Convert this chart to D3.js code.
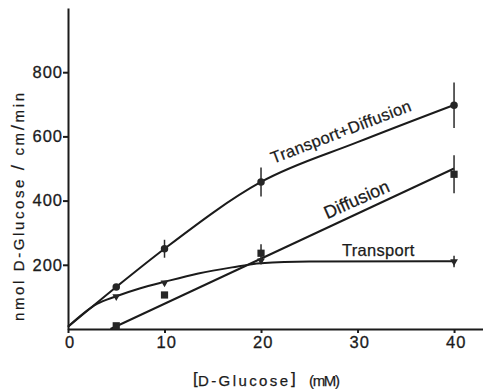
<!DOCTYPE html>
<html>
<head>
<meta charset="utf-8">
<script src="https://cdn.jsdelivr.net/npm/d3@7"></script>
<style>
  body { margin: 0; background: #fff; }
  svg { display: block; font-family: "Liberation Sans", Arial, sans-serif; }
  .axis path, .axis line { stroke: #1b1b1b; stroke-width: 2; }
  .axis text { font-size: 16.5px; fill: #1b1b1b; letter-spacing: 1px; stroke: #1b1b1b; stroke-width: 0.3px; }
  .lbl { fill: #1b1b1b; stroke: #1b1b1b; stroke-width: 0.25px; }
</style>
</head>
<body>
<div id="chart"></div>
<script>
// measured points (mM -> nmol/cm/min)
var conc = [5, 10, 20, 40];
var transDiff = [131, 250, 458, 697];
var transDiffErr = [0, 28, 45, 71];
var diffusion = [10, 106, 236, 482];
var diffusionErr = [0, 0, 28, 59];
var transport = [101, 144, 213, 210];
var transportErr = [0, 0, 0, 18];

// drawn curves
var fitTransDiffX = [0, 5, 10, 20, 30, 40];
var fitTransDiffY = [7, 131, 250, 458, 582, 698];
var fitDiffusionX = [4.4, 40];
var fitDiffusionY = [0, 500];
var fitTransportX = [0, 3, 5, 7.5, 10, 13.5, 17, 20, 25, 40];
var fitTransportY = [7, 78, 102, 127, 147, 173, 192, 205, 210, 211];

var xTicks = [0, 10, 20, 30, 40];
var yTicks = [200, 400, 600, 800];

var width = 483, height = 389;
var svg = d3.select("#chart").append("svg")
    .attr("width", width)
    .attr("height", height);

var x = d3.scaleLinear().domain([0, 43]).range([68, 483]);
var y = d3.scaleLinear().domain([0, 1000]).range([329, 8]);

// axes
svg.append("g")
    .attr("class", "axis")
    .attr("transform", "translate(0," + y(0) + ")")
    .call(d3.axisBottom(x).tickValues(xTicks).tickSize(4).tickSizeOuter(0).tickPadding(3))
    .call(g => g.selectAll("text").attr("dx", "0.1em"));

svg.append("g")
    .attr("class", "axis")
    .attr("transform", "translate(" + x(0) + ",0)")
    .call(d3.axisLeft(y).tickValues(yTicks).tickSize(5).tickSizeOuter(0).tickPadding(0));

svg.selectAll(".axis text").attr("font-family", null);

// curves
function pts(xs, ys) { return xs.map(function(v, i) { return [v, ys[i]]; }); }
var line = d3.line()
    .x(function(d) { return x(d[0]); })
    .y(function(d) { return y(d[1]); })
    .curve(d3.curveMonotoneX);

[pts(fitTransDiffX, fitTransDiffY), pts(fitDiffusionX, fitDiffusionY), pts(fitTransportX, fitTransportY)]
  .forEach(function(p) {
    svg.append("path")
      .attr("d", line(p))
      .attr("fill", "none")
      .attr("stroke", "#1b1b1b")
      .attr("stroke-width", 2);
  });

// error bars + markers
var series = [
  { vals: transDiff, err: transDiffErr, sym: d3.symbolCircle, size: 44, rot: 0 },
  { vals: diffusion, err: diffusionErr, sym: d3.symbolSquare, size: 52, rot: 0 },
  { vals: transport, err: transportErr, sym: d3.symbolTriangle, size: 26, rot: 180 }
];

series.forEach(function(s) {
  var d = conc.map(function(c, i) { return { c: c, v: s.vals[i], e: s.err[i] }; });
  svg.append("g").selectAll("line")
    .data(d.filter(function(p) { return p.e > 0; }))
    .enter().append("line")
    .attr("x1", function(p) { return x(p.c); })
    .attr("x2", function(p) { return x(p.c); })
    .attr("y1", function(p) { return y(p.v - p.e); })
    .attr("y2", function(p) { return y(p.v + p.e); })
    .attr("stroke", "#2a2a2a")
    .attr("stroke-width", 1.5);
  svg.append("g").selectAll("path")
    .data(d)
    .enter().append("path")
    .attr("d", d3.symbol().type(s.sym).size(s.size))
    .attr("transform", function(p) {
      return "translate(" + x(p.c) + "," + y(p.v) + ") rotate(" + s.rot + ")";
    })
    .attr("fill", "#262626");
});

// curve labels
svg.append("text")
    .attr("class", "lbl")
    .attr("transform", "translate(343,137) rotate(-21)")
    .attr("text-anchor", "middle")
    .attr("font-size", "16.5px")
    .attr("letter-spacing", "0.3px")
    .text("Transport+Diffusion");

svg.append("text")
    .attr("class", "lbl")
    .attr("transform", "translate(359,205) rotate(-24)")
    .attr("text-anchor", "middle")
    .attr("font-size", "18px")
    .text("Diffusion");

svg.append("text")
    .attr("class", "lbl")
    .attr("x", 342)
    .attr("y", 256)
    .attr("font-size", "16.5px")
    .attr("letter-spacing", "0.3px")
    .text("Transport");

// axis titles
var xt = svg.append("g");
xt.append("text").attr("class", "lbl").attr("x", 193).attr("y", 384).attr("font-size", "17px")
    .text("[");
xt.append("text").attr("class", "lbl").attr("x", 198).attr("y", 386).attr("font-size", "15px")
    .attr("textLength", 90).attr("lengthAdjust", "spacing").text("D-Glucose");
xt.append("text").attr("class", "lbl").attr("x", 291).attr("y", 384).attr("font-size", "17px")
    .text("]");
xt.append("text").attr("class", "lbl").attr("x", 309).attr("y", 386).attr("font-size", "15px")
    .attr("textLength", 31).attr("lengthAdjust", "spacing").text("(mM)");

// rotated y title, spread to the ~228px it takes in the figure
var yt = svg.append("text")
    .attr("class", "lbl")
    .attr("transform", "translate(24,321) rotate(-90)")
    .attr("font-size", "15px")
    .attr("textLength", 228)
    .attr("lengthAdjust", "spacing");
yt.append("tspan").text("nmol D-Glucose ");
yt.append("tspan").attr("font-size", "19px").text("/");
yt.append("tspan").text(" cm");
yt.append("tspan").attr("font-size", "19px").text("/");
yt.append("tspan").text("min");
</script>
</body>
</html>
